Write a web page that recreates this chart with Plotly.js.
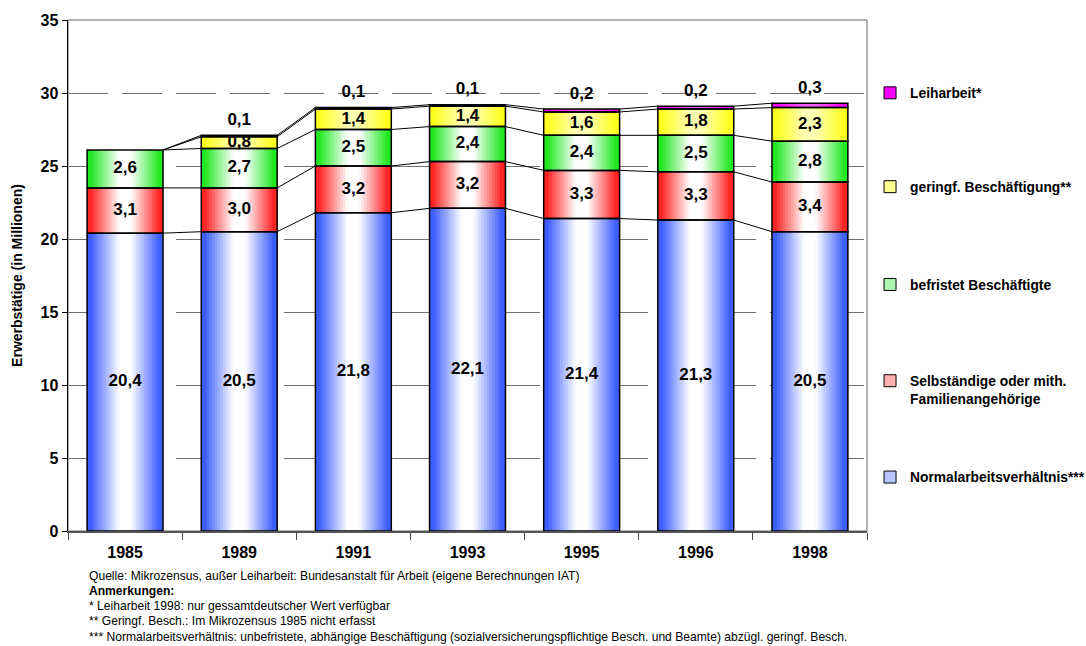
<!DOCTYPE html>
<html>
<head>
<meta charset="utf-8">
<script src="https://cdn.plot.ly/plotly-3.0.1.min.js"></script>
<style>html,body{margin:0;padding:0;background:#fff;}#chart{width:1086px;height:646px;}</style>
</head>
<body>
<div id="chart"></div>
<script>
// ---- data ----
const years = ['1985', '1989', '1991', '1993', '1995', '1996', '1998'];
const normal = [20.4, 20.5, 21.8, 22.1, 21.4, 21.3, 20.5];
const selbst = [3.1, 3.0, 3.2, 3.2, 3.3, 3.3, 3.4];
const befristet = [2.6, 2.7, 2.5, 2.4, 2.4, 2.5, 2.8];
const geringf = [null, 0.8, 1.4, 1.4, 1.6, 1.8, 2.3];
const leiharbeit = [null, 0.1, 0.1, 0.1, 0.2, 0.2, 0.3];
const seriesNames = ['Normalarbeitsverhältnis***', 'Selbständige oder mith.<br>Familienangehörige', 'befristet Beschäftigte', 'geringf. Beschäftigung**', 'Leiharbeit*'];
const footnotes = [
  'Quelle: Mikrozensus, außer Leiharbeit: Bundesanstalt für Arbeit (eigene Berechnungen IAT)',
  '<b>Anmerkungen:</b>',
  '* Leiharbeit 1998: nur gessamtdeutscher Wert verfügbar',
  '** Geringf. Besch.: Im Mikrozensus 1985 nicht erfasst',
  '*** Normalarbeitsverhältnis: unbefristete, abhängige Beschäftigung (sozialversicherungspflichtige Besch. und Beamte) abzügl. geringf. Besch.'
];

// ---- styles ----
const seriesValues = [normal, selbst, befristet, geringf, leiharbeit];
const edgeColors = ['#3d5eff', '#ff2424', '#22e822', '#ffff1e', '#ff00ff'];
const centerColors = ['#ffffff', '#ffffff', '#ffffff', '#ffffb4', '#ff5cff'];
const legendColors = ['#b8c6ff', '#ffb0b0', '#b0f5b0', '#ffff90', '#ff00ff'];
const FONT = 'Arial, "Liberation Sans", sans-serif';
const W = 0.665;
const NL = 14;

function hex2rgb(h){h=h.replace('#','');return [0,2,4].map(i=>parseInt(h.substr(i,2),16));}
function mix(c1,c2,t){const a=hex2rgb(c1),b=hex2rgb(c2);return 'rgb('+a.map((v,i)=>Math.round(v+(b[i]-v)*t)).join(',')+')';}
function fmt(v){return v.toFixed(1).replace('.', ',');}

const xs = years.map((_, i) => i);
// cumulative bases
const bases = [];
const tops = [];
let run = xs.map(() => 0);
seriesValues.forEach(vals => {
  bases.push(run.slice());
  run = run.map((r, i) => r + (vals[i] == null ? 0 : vals[i]));
  tops.push(run.slice());
});

const traces = [];
// gradient layers
seriesValues.forEach((vals, s) => {
  for (let k = 0; k < NL; k++) {
    const d = 1 - (k + 0.5) / NL;
    let t = Math.min(1, Math.max(0, (d - 0.15) / 0.75));
    traces.push({
      type: 'bar', x: xs, y: vals, base: bases[s],
      width: xs.map(() => W * (1 - k / NL)),
      marker: {color: mix(centerColors[s], edgeColors[s], t), line: {width: 0}},
      showlegend: false, hoverinfo: 'skip'
    });
  }
});
// outlines
seriesValues.forEach((vals, s) => {
  traces.push({
    type: 'bar', x: xs, y: vals, base: bases[s], width: xs.map(() => W),
    marker: {color: 'rgba(0,0,0,0)', line: {color: '#000', width: 1.5}},
    showlegend: false, hoverinfo: 'skip'
  });
});
// connector lines
const cx = [], cy = [];
tops.forEach(lv => {
  for (let i = 0; i < xs.length - 1; i++) {
    cx.push(xs[i] + W / 2, xs[i + 1] - W / 2, null);
    cy.push(lv[i], lv[i + 1], null);
  }
});
traces.push({type: 'scatter', mode: 'lines', x: cx, y: cy, line: {color: '#000', width: 1}, showlegend: false, hoverinfo: 'skip'});
// value labels
seriesValues.forEach((vals, s) => {
  const isTop = s === seriesValues.length - 1;
  traces.push({
    type: 'scatter', mode: 'text',
    x: xs.filter((_, i) => vals[i] != null),
    y: xs.filter((_, i) => vals[i] != null).map(i => isTop ? tops[s][i] + 1.0 : bases[s][i] + vals[i] / 2),
    text: vals.filter(v => v != null).map(fmt),
    textposition: 'middle center',
    textfont: {family: FONT, size: 17, color: '#000', weight: 'bold'},
    showlegend: false, hoverinfo: 'skip'
  });
});
// legend entries (one legend each)
const legendY = [0.1055, 0.2764, 0.4824, 0.6738, 0.8574];
seriesNames.forEach((n, s) => {
  traces.push({
    type: 'bar', x: [null], y: [null], name: n,
    marker: {color: legendColors[s], line: {color: '#000', width: 1}},
    showlegend: true, legend: s === 0 ? 'legend' : 'legend' + (s + 1), hoverinfo: 'skip'
  });
});

const layout = {
  width: 1086, height: 646,
  margin: {l: 68, r: 219, t: 20, b: 115, autoexpand: false},
  paper_bgcolor: '#fff', plot_bgcolor: '#fff',
  barmode: 'overlay',
  hovermode: false,
  font: {family: FONT, color: '#000'},
  xaxis: {
    range: [-0.5, 6.5], tickmode: 'array', tickvals: xs, ticktext: years,
    ticks: '', showgrid: false, zeroline: false, ticklabelstandoff: 6,
    tickfont: {family: FONT, size: 16, weight: 'bold', color: '#000'},
    showline: true, linecolor: '#555', linewidth: 1.5,
    minor: {tickmode: 'array', tickvals: xs.concat([6]).map(v => v - 0.5).concat([6.5]), ticks: 'outside', ticklen: 7, tickcolor: '#444', tickwidth: 1, showgrid: false},
    automargin: false
  },
  yaxis: {
    range: [0, 35], dtick: 5, tick0: 0,
    ticks: 'outside', ticklen: 5, tickcolor: '#000', tickwidth: 1,
    showline: true, linecolor: '#000', linewidth: 1.5, zeroline: false,
    showgrid: true, gridcolor: '#707070', gridwidth: 1, griddash: '40px,14px',
    tickfont: {family: FONT, size: 16, weight: 'bold', color: '#000'},
    title: {text: 'Erwerbstätige (in Millionen)', font: {family: FONT, size: 14, weight: 'bold', color: '#000'}, standoff: 14},
    automargin: false
  },
  shapes: [{type: 'rect', xref: 'paper', yref: 'paper', x0: 0, x1: 1, y0: 0, y1: 1, line: {color: '#9a9a9a', width: 1.5}, layer: 'below'}],
  annotations: footnotes.map((t, i) => ({
    text: t, xref: 'paper', yref: 'paper', x: 0.0238, xanchor: 'left',
    y: [-0.0879, -0.1172, -0.1465, -0.1758, -0.2070][i], yanchor: 'middle',
    showarrow: false, font: {family: FONT, size: 12.1, color: '#000'}
  }))
};
seriesNames.forEach((n, s) => {
  const key = s === 0 ? 'legend' : 'legend' + (s + 1);
  layout[key] = {
    x: 1.0038, xanchor: 'left', y: legendY[s], yanchor: 'middle',
    bgcolor: 'rgba(0,0,0,0)', borderwidth: 0, valign: 'top',
    font: {family: FONT, size: 13.8, weight: 'bold', color: '#000'}
  };
});

Plotly.newPlot('chart', traces, layout, {staticPlot: true, displayModeBar: false});
</script>
</body>
</html>
